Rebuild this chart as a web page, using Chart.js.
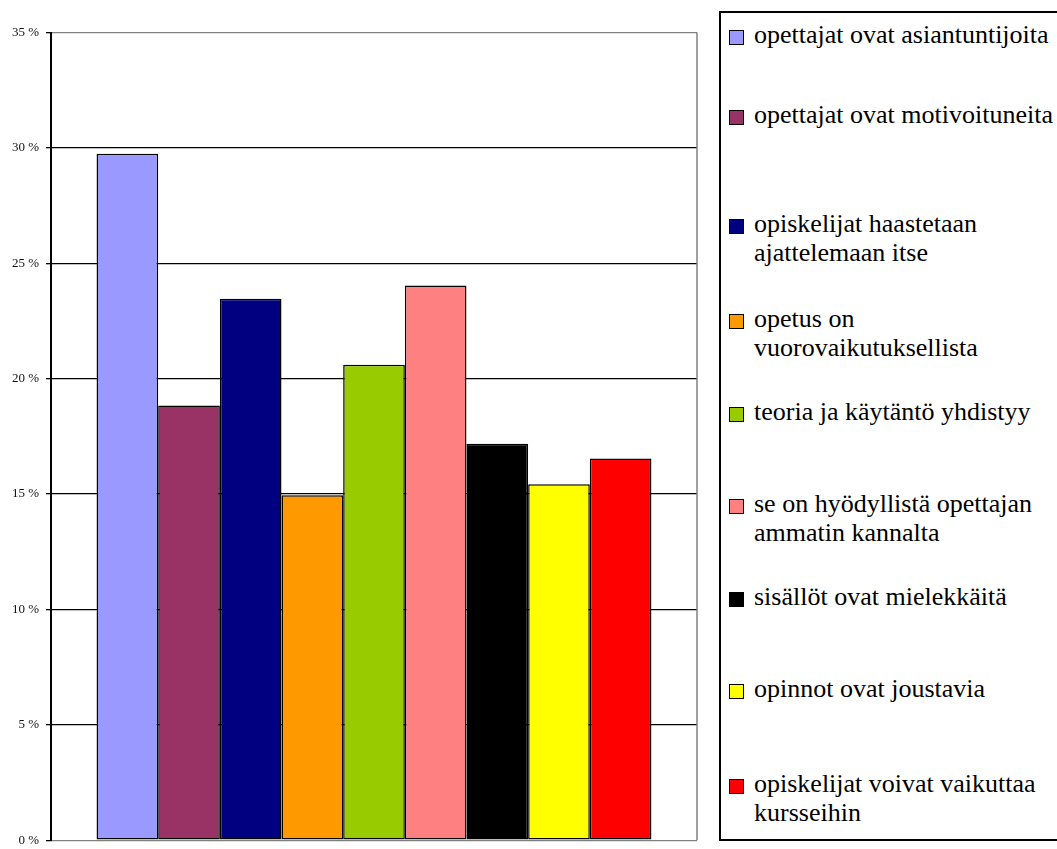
<!DOCTYPE html>
<html>
<head>
<meta charset="utf-8">
<script src="https://cdn.jsdelivr.net/npm/chart.js@4/dist/chart.umd.min.js"></script>
<style>
  html, body { margin: 0; padding: 0; background: #fff; overflow: hidden; }
  #wrap { position: relative; width: 1057px; height: 849px; overflow: hidden; }
  #chart { position: absolute; left: 0; top: 0; }
  #legend {
    position: absolute; left: 719px; top: 11px; width: 360px; height: 830px;
    border: 2px solid #000; background: #fff; box-sizing: border-box;
  }
  .item {
    position: absolute; left: 8px; display: flex; align-items: flex-start;
    font-family: "Liberation Serif", "Tinos", "DejaVu Serif", "Times New Roman", serif;
    font-size: 26px; line-height: 29px; color: #000; white-space: nowrap;
  }
  .swatch {
    width: 13px; height: 13px; border: 1.5px solid #000; margin-top: 10px;
    margin-right: 10px; flex: none;
  }
</style>
</head>
<body>
<div id="wrap">
  <canvas id="chart" width="1057" height="855"></canvas>
  <div id="legend"></div>
</div>
<script>
// ---- data ----
const categories = [''];
const seriesLabels = [
  ['opettajat ovat asiantuntijoita'],
  ['opettajat ovat motivoituneita'],
  ['opiskelijat haastetaan', 'ajattelemaan itse'],
  ['opetus on', 'vuorovaikutuksellista'],
  ['teoria ja käytäntö yhdistyy'],
  ['se on hyödyllistä opettajan', 'ammatin kannalta'],
  ['sisällöt ovat mielekkäitä'],
  ['opinnot ovat joustavia'],
  ['opiskelijat voivat vaikuttaa', 'kursseihin']
];
const seriesValues = [29.75, 18.84, 23.46, 14.95, 20.6, 24.04, 17.18, 15.42, 16.54];
const yTicks = [0, 5, 10, 15, 20, 25, 30, 35];

// ---- styling ----
const palette = ['#9999FF', '#993366', '#000080', '#FF9900', '#99CC00',
                 '#FF8080', '#000000', '#FFFF00', '#FF0000'];
const serifFont = '"Liberation Serif", "Tinos", "DejaVu Serif", "Times New Roman", serif';
// vertical centre of first legend line, page coords
const legendRowY = [35, 115, 224, 319, 412, 504, 597, 689, 784];

// right-hand frame of the plot area (Excel style grey border)
const plotFrame = {
  id: 'plotFrame',
  beforeDatasetsDraw(chart) {
    const { ctx, chartArea: a } = chart;
    ctx.save();
    ctx.strokeStyle = '#808080';
    ctx.lineWidth = 1.5;
    ctx.beginPath();
    ctx.moveTo(a.right, a.top);
    ctx.lineTo(a.right, a.bottom);
    ctx.stroke();
    ctx.restore();
  }
};

const datasets = seriesLabels.map((lbl, i) => ({
  label: lbl.join(' '),
  data: [seriesValues[i]],
  backgroundColor: palette[i],
  borderColor: '#000',
  borderWidth: 1.5,
  borderSkipped: false,
  categoryPercentage: 0.859,
  barPercentage: 1
}));

new Chart(document.getElementById('chart'), {
  type: 'bar',
  data: { labels: categories, datasets: datasets },
  plugins: [plotFrame],
  options: {
    responsive: false,
    animation: false,
    layout: { padding: { left: 0, top: 32.5, right: 360, bottom: 10.5 } },
    plugins: { legend: { display: false }, tooltip: { enabled: false } },
    scales: {
      x: { display: false },
      y: {
        min: 0,
        max: 35,
        afterFit: (scale) => { scale.width = 51; },
        afterBuildTicks: (scale) => { scale.ticks = yTicks.map(v => ({ value: v })); },
        grid: {
          color: (c) => (c.tick && (c.tick.value === 35 || c.tick.value === 0)) ? '#808080' : '#000',
          lineWidth: 1.3,
          tickLength: 5,
          tickColor: '#000'
        },
        border: { display: true, color: '#000', width: 2 },
        ticks: {
          padding: 7,
          color: '#111',
          font: { family: serifFont, size: 13 },
          callback: (v) => v + ' %'
        }
      }
    }
  }
});

// ---- legend ----
const legend = document.getElementById('legend');
seriesLabels.forEach((lines, i) => {
  const item = document.createElement('div');
  item.className = 'item';
  item.style.top = (legendRowY[i] - 11 - 2 - 15) + 'px';
  const sw = document.createElement('div');
  sw.className = 'swatch';
  sw.style.background = palette[i];
  const txt = document.createElement('div');
  txt.innerHTML = lines.join('<br>');
  item.appendChild(sw);
  item.appendChild(txt);
  legend.appendChild(item);
});
</script>
</body>
</html>
